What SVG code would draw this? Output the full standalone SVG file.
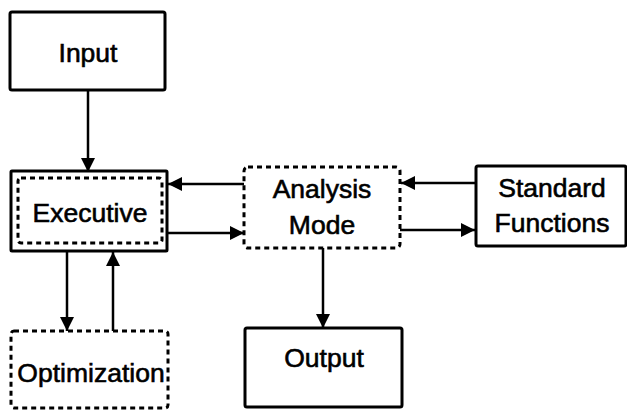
<svg xmlns="http://www.w3.org/2000/svg" width="627" height="411" viewBox="0 0 627 411">
<style>
.box{fill:none;stroke:#000;stroke-width:3}
.dash{fill:none;stroke:#000;stroke-width:3;stroke-dasharray:5 4}
.lbl{font-family:"Liberation Sans",Arial,sans-serif;font-size:26.5px;fill:#000;stroke:#000;stroke-width:0.6;text-anchor:middle}
.con{stroke:#000;stroke-width:2.5;fill:none;marker-end:url(#ah)}
</style>
<defs>
<marker id="ah" markerWidth="14" markerHeight="14" refX="14" refY="7" orient="auto" markerUnits="userSpaceOnUse">
<path d="M0,0 L14,7 L0,14 Z" fill="#000"/>
</marker>
</defs>
<rect width="627" height="411" fill="#fff"/>
<g id="input"><rect class="box" x="10" y="12" width="155" height="78" rx="2"/><text class="lbl" x="88" y="62">Input</text></g>
<g id="executive"><rect class="box" x="11" y="171" width="156" height="80" rx="1"/><rect class="dash" x="18" y="178" width="144" height="65" rx="3"/><text class="lbl" x="90" y="222">Executive</text></g>
<g id="analysis"><rect class="dash" x="244" y="167" width="156" height="81" rx="4"/><text class="lbl" x="322" y="198">Analysis</text><text class="lbl" x="322" y="234">Mode</text></g>
<g id="standard"><rect class="box" x="476" y="166" width="150" height="80" rx="2"/><text class="lbl" x="552" y="197">Standard</text><text class="lbl" x="552" y="232">Functions</text></g>
<g id="optimization"><rect class="dash" x="11" y="331" width="157" height="77" rx="3"/><text class="lbl" x="91" y="382">Optimization</text></g>
<g id="output"><rect class="box" x="245" y="328" width="157" height="79" rx="2"/><text class="lbl" x="324" y="367">Output</text></g>
<g id="connectors">
<line class="con" x1="88" y1="90" x2="88" y2="172"/>
<line class="con" x1="244" y1="184" x2="168" y2="184"/>
<line class="con" x1="167" y1="233" x2="244" y2="233"/>
<line class="con" x1="476" y1="183" x2="401" y2="183"/>
<line class="con" x1="400" y1="230" x2="475" y2="230"/>
<line class="con" x1="323" y1="248" x2="323" y2="328"/>
<line class="con" x1="67" y1="251" x2="67" y2="331"/>
<line class="con" x1="113" y1="331" x2="113" y2="252"/>
</g>
</svg>
